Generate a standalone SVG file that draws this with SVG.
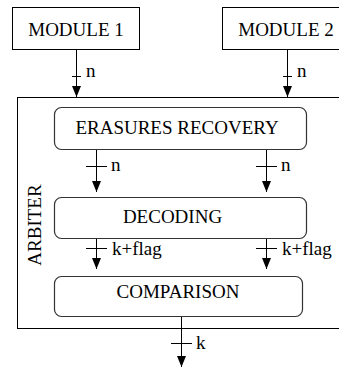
<svg xmlns="http://www.w3.org/2000/svg" width="339" height="368" viewBox="0 0 339 368" font-family="Liberation Serif, DejaVu Serif, serif">
<defs>
<marker id="ah" markerUnits="userSpaceOnUse" markerWidth="12" markerHeight="10" refX="11" refY="4.5" orient="auto">
<path d="M0,0 L11,4.5 L0,9 z" fill="#000"/>
</marker>
<style>
text{font-family:'Liberation Serif','DejaVu Serif',serif;font-size:19px;fill:#000}
.box{fill:#fff;stroke:#000;stroke-width:1}
.rbox{fill:#fff;stroke:#333;stroke-width:1.2}
.c{stroke:#000;stroke-width:1;fill:none}
.mid{text-anchor:middle}
</style>
</defs>
<rect width="339" height="368" fill="#fff"/>
<g id="arbiter">
<rect class="box" x="17.5" y="97.5" width="340" height="231"/>
<text transform="translate(41,225) rotate(-90)" class="mid">ARBITER</text>
</g>
<g id="module1">
<rect class="box" x="12.5" y="7.5" width="127" height="42"/>
<text x="76" y="36" class="mid">MODULE 1</text>
</g>
<g id="module2">
<rect class="box" x="222.5" y="7.5" width="130" height="42"/>
<text x="286" y="36" class="mid">MODULE 2</text>
</g>
<g id="erasures">
<rect class="rbox" x="54.5" y="107.5" width="252" height="42" rx="7"/>
<text x="177" y="134" class="mid">ERASURES RECOVERY</text>
</g>
<g id="decoding">
<rect class="rbox" x="54.5" y="197.5" width="252" height="41" rx="7"/>
<text x="172.5" y="223" class="mid">DECODING</text>
</g>
<g id="comparison">
<rect class="rbox" x="54.5" y="276.5" width="248" height="40" rx="7"/>
<text x="178" y="298" class="mid">COMPARISON</text>
</g>
<g id="connectors">
<line class="c" x1="76.5" y1="50" x2="76.5" y2="97" marker-end="url(#ah)"/>
<line class="c" x1="72" y1="76.5" x2="81" y2="76.5"/>
<text x="86" y="77">n</text>
<line class="c" x1="287.5" y1="50" x2="287.5" y2="97" marker-end="url(#ah)"/>
<line class="c" x1="283" y1="76.5" x2="292" y2="76.5"/>
<text x="297" y="77">n</text>
<line class="c" x1="96.5" y1="150" x2="96.5" y2="192" marker-end="url(#ah)"/>
<line class="c" x1="86" y1="166.5" x2="107" y2="166.5"/>
<text x="111" y="171">n</text>
<line class="c" x1="266.5" y1="150" x2="266.5" y2="192" marker-end="url(#ah)"/>
<line class="c" x1="256" y1="166.5" x2="277" y2="166.5"/>
<text x="281" y="171">n</text>
<line class="c" x1="96.5" y1="239" x2="96.5" y2="269" marker-end="url(#ah)"/>
<line class="c" x1="86" y1="248.5" x2="107" y2="248.5"/>
<text x="112" y="255">k+flag</text>
<line class="c" x1="266.5" y1="239" x2="266.5" y2="269" marker-end="url(#ah)"/>
<line class="c" x1="256" y1="248.5" x2="277" y2="248.5"/>
<text x="282" y="255">k+flag</text>
<line class="c" x1="181.5" y1="317" x2="181.5" y2="367" marker-end="url(#ah)"/>
<line class="c" x1="171" y1="343.5" x2="192" y2="343.5"/>
<text x="196" y="349">k</text>
</g>
</svg>
